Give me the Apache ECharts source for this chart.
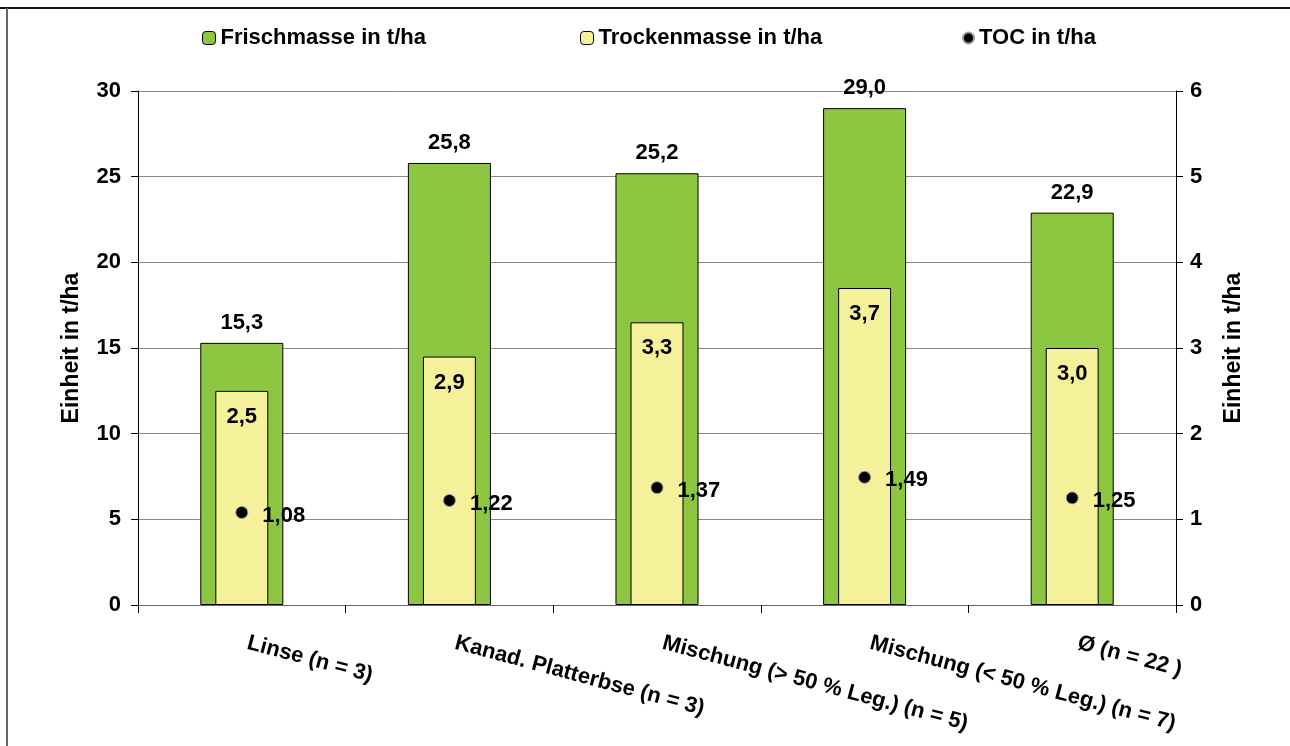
<!DOCTYPE html>
<html>
<head>
<meta charset="utf-8">
<script src="https://cdn.jsdelivr.net/npm/echarts@6/dist/echarts.min.js"></script>
<style>
html,body{margin:0;padding:0;background:#fff;}
#chart{width:1290px;height:746px;}
</style>
</head>
<body>
<div id="chart"></div>
<script>
const categories = ['Linse (n = 3)', 'Kanad. Platterbse (n = 3)', 'Mischung (> 50 % Leg.) (n = 5)', 'Mischung (< 50 % Leg.) (n = 7)', 'Ø (n = 22 )'];
const frischmasse = [15.3, 25.8, 25.2, 29.0, 22.9];
const trockenmasse = [2.5, 2.9, 3.3, 3.7, 3.0];
const toc = [1.08, 1.22, 1.37, 1.49, 1.25];
const seriesNames = ['Frischmasse in t/ha', 'Trockenmasse in t/ha', 'TOC in t/ha'];
const axisName = 'Einheit in t/ha';

const FONT = '"Liberation Sans", Arial, sans-serif';
const de = (v, d) => v.toFixed(d).replace('.', ',');

const chart = echarts.init(document.getElementById('chart'), null, {renderer: 'canvas'});
const txt = {fontFamily: FONT, fontWeight: 'bold', color: '#000'};
const FS = 22;

chart.setOption({
  animation: false,
  backgroundColor: '#fff',
  graphic: [
    {type: 'line', shape: {x1: 0, y1: 8, x2: 1290, y2: 8}, style: {stroke: '#111', lineWidth: 2}},
    {type: 'line', shape: {x1: 7, y1: 8, x2: 7, y2: 746}, style: {stroke: '#666', lineWidth: 2}}
  ],
  legend: [
    {left: 197, top: 22, data: [seriesNames[0]], itemWidth: 13, itemHeight: 13, itemGap: 8,
     textStyle: Object.assign({fontSize: FS}, txt), itemStyle: {borderColor: '#000', borderWidth: 1}},
    {left: 575, top: 22, data: [seriesNames[1]], itemWidth: 13, itemHeight: 13, itemGap: 8,
     textStyle: Object.assign({fontSize: FS}, txt), itemStyle: {borderColor: '#000', borderWidth: 1}},
    {left: 957, top: 22, data: [seriesNames[2]], itemWidth: 11, itemHeight: 11, itemGap: 8,
     textStyle: Object.assign({fontSize: FS}, txt), itemStyle: {opacity: 1}}
  ],
  grid: {left: 138, right: 114, top: 91, bottom: 141, containLabel: false, outerBoundsMode: 'none'},
  xAxis: [
    {type: 'category', data: categories, boundaryGap: true,
     axisLine: {lineStyle: {color: '#666', width: 1}},
     axisTick: {show: true, length: 8, lineStyle: {color: '#000'}},
     axisLabel: Object.assign({rotate: -15, margin: 36, fontSize: FS, interval: 0, padding: [0, 0, 0, 6]}, txt),
     splitLine: {show: false}},
    {type: 'category', data: categories, boundaryGap: true, show: false, gridIndex: 0}
  ],
  yAxis: [
    {type: 'value', min: 0, max: 30, interval: 5, position: 'left',
     name: axisName, nameLocation: 'middle', nameGap: 55, nameRotate: 90,
     nameTextStyle: Object.assign({fontSize: 23}, txt),
     axisLine: {show: true, lineStyle: {color: '#000'}},
     axisTick: {show: true, length: 7, lineStyle: {color: '#000'}},
     axisLabel: Object.assign({fontSize: FS, margin: 17}, txt),
     splitLine: {show: true, lineStyle: {color: '#888', width: 1}}},
    {type: 'value', min: 0, max: 6, interval: 1, position: 'right',
     name: axisName, nameLocation: 'middle', nameGap: 46, nameRotate: 90,
     nameTextStyle: Object.assign({fontSize: 23}, txt),
     axisLine: {show: true, lineStyle: {color: '#000'}},
     axisTick: {show: true, length: 7, lineStyle: {color: '#000'}},
     axisLabel: Object.assign({fontSize: FS, margin: 14}, txt),
     splitLine: {show: false}}
  ],
  series: [
    {name: seriesNames[0], type: 'bar', xAxisIndex: 0, yAxisIndex: 0, data: frischmasse,
     barWidth: '40%',
     itemStyle: {color: '#8DC641', borderColor: '#000', borderWidth: 1},
     label: Object.assign({show: true, position: 'top', distance: 9, fontSize: FS,
       formatter: p => de(p.value, 1)}, txt), z: 2},
    {name: seriesNames[1], type: 'bar', xAxisIndex: 1, yAxisIndex: 1, data: trockenmasse,
     barWidth: '25.5%',
     itemStyle: {color: '#F5F09A', borderColor: '#000', borderWidth: 1},
     label: Object.assign({show: true, position: 'insideTop', distance: 15, fontSize: FS,
       formatter: p => de(p.value, 1)}, txt), z: 3},
    {name: seriesNames[2], type: 'scatter', xAxisIndex: 0, yAxisIndex: 1, data: toc,
     symbol: 'circle', symbolSize: 12,
     itemStyle: {color: '#000', borderColor: '#999', borderWidth: 1, opacity: 1},
     label: Object.assign({show: true, position: 'right', distance: 14, offset: [0, 3], fontSize: FS,
       formatter: p => de(p.value, 2)}, txt), z: 5}
  ]
});
</script>
</body>
</html>
